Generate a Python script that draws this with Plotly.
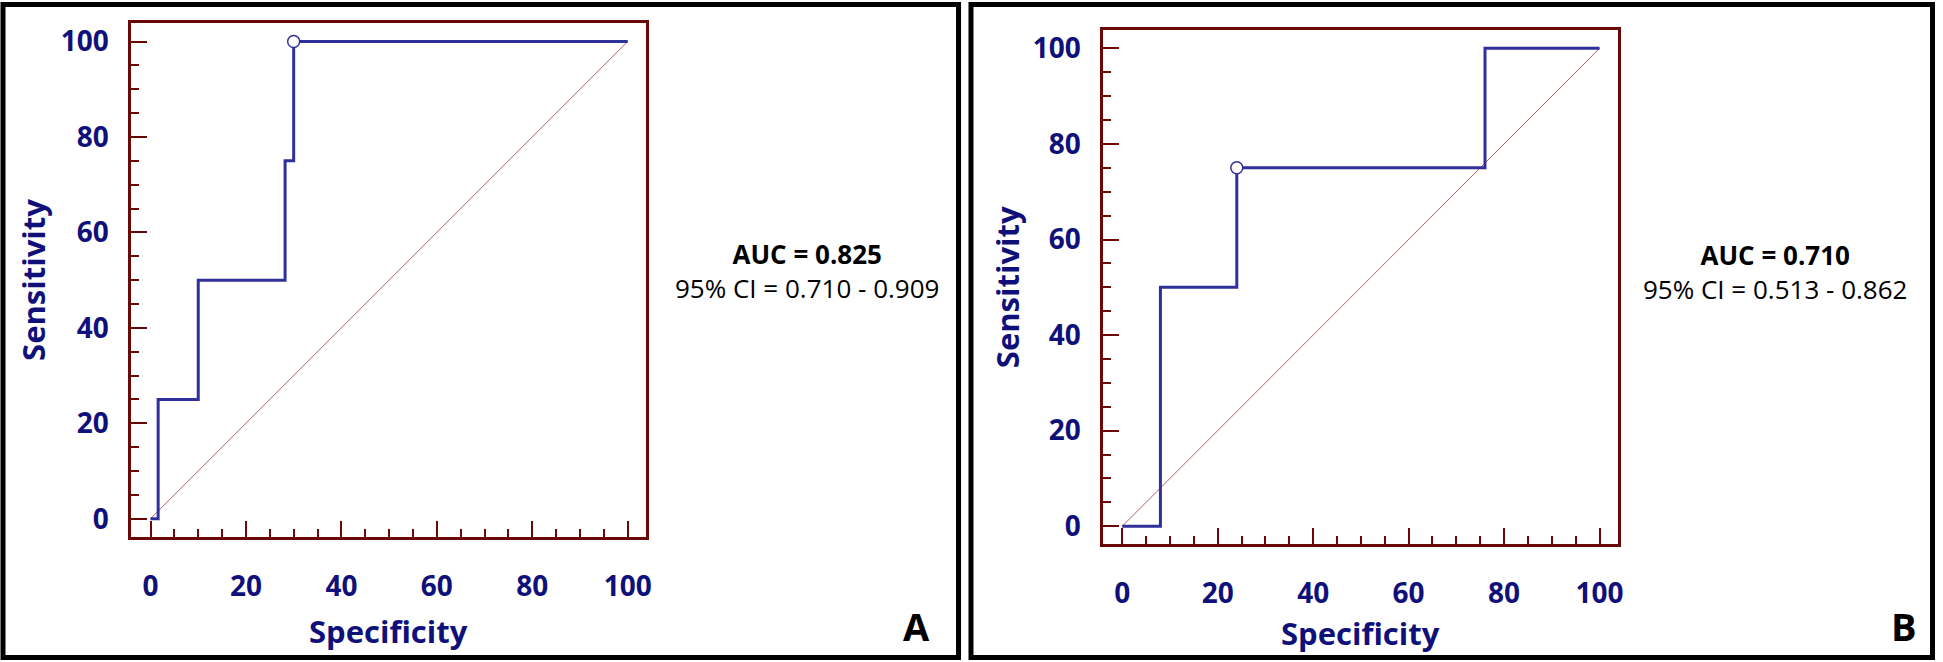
import plotly.graph_objects as go

W, H = 1943, 662

# ---- data ----
spec_a = [0, 1.6, 10, 28.2, 30, 100]
sens_a = [0, 25, 50, 75, 100, 100]
cut_a = ([30], [100])
auc_a = "AUC = 0.825"
ci_a = "95% CI = 0.710 - 0.909"

spec_b = [0, 8, 24, 76, 100]
sens_b = [0, 50, 75, 100, 100]
cut_b = ([24], [75])
auc_b = "AUC = 0.710"
ci_b = "95% CI = 0.513 - 0.862"

diag = [0, 100]
panel_labels = ["A", "B"]

NAVY = "#10107a"
CURVE = "#30309c"
FRAME = "#6a0808"
DIAG = "#b06060"
FONT = "Open Sans"

fig = go.Figure()

def px_x(p):
    return p / W

def px_y(p):
    return 1 - p / H

panels = [
    dict(spec=spec_a, sens=sens_a, cut=cut_a, auc=auc_a, ci=ci_a, lab=panel_labels[0],
         box=(131.7, 648.3, 21.0, 536.7), xr=[-4.03, 103.9], yr=[-3.85, 103.9],
         stat_xy=(810, 270), lab_xy=(919, 626),
         ytitle_x=33, xtitle_y=631),
    dict(spec=spec_b, sens=sens_b, cut=cut_b, auc=auc_b, ci=ci_b, lab=panel_labels[1],
         box=(1106.7, 1622.7, 28.3, 544.0), xr=[-3.97, 103.8], yr=[-3.8, 103.8],
         stat_xy=(1780, 271), lab_xy=(1910, 626),
         ytitle_x=1010, xtitle_y=633),
]

annotations = []
shapes = []
for i, p in enumerate(panels):
    n = "" if i == 0 else str(i + 1)
    xa, ya = "x" + n, "y" + n
    x0, x1, y0, y1 = p["box"]
    fig.add_trace(go.Scatter(x=diag, y=diag, mode="lines", xaxis=xa, yaxis=ya,
                             line=dict(color=DIAG, width=1), showlegend=False,
                             hoverinfo="skip"))
    fig.add_trace(go.Scatter(x=p["spec"], y=p["sens"], mode="lines", xaxis=xa, yaxis=ya,
                             line=dict(color=CURVE, width=3, shape="hv"),
                             showlegend=False))
    fig.add_trace(go.Scatter(x=p["cut"][0], y=p["cut"][1], mode="markers", xaxis=xa, yaxis=ya,
                             marker=dict(size=12, color="white",
                                         line=dict(color=CURVE, width=1.5)),
                             showlegend=False))
    axis_common = dict(
        showgrid=False, zeroline=False, showline=True, mirror=True,
        linecolor=FRAME, linewidth=3,
        ticks="inside", ticklen=16, tickwidth=2, tickcolor=FRAME,
        dtick=20, tick0=0,
        minor=dict(dtick=5, tick0=0, ticks="inside", ticklen=8, tickwidth=2,
                   tickcolor=FRAME, showgrid=False),
        tickfont=dict(family=FONT, size=28, color=NAVY, weight="bold"),
    )
    fig.update_layout(**{
        "xaxis" + n: dict(axis_common, domain=[px_x(x0), px_x(x1)], range=p["xr"],
                          anchor=ya, ticklabelstandoff=22),
        "yaxis" + n: dict(axis_common, domain=[px_y(y1), px_y(y0)], range=p["yr"],
                          anchor=xa, ticklabelstandoff=14),
    })
    annotations += [
        dict(text="Specificity", x=px_x((x0 + x1) / 2), y=px_y(p["xtitle_y"]),
             xref="paper", yref="paper", showarrow=False, xanchor="center", yanchor="middle",
             font=dict(family=FONT, size=31, color=NAVY, weight="bold")),
        dict(text="Sensitivity", x=px_x(p["ytitle_x"]), y=px_y((y0 + y1) / 2),
             xref="paper", yref="paper", showarrow=False, xanchor="center", yanchor="middle",
             textangle=-90,
             font=dict(family=FONT, size=31, color=NAVY, weight="bold")),
        dict(text="<b>" + p["auc"] + "</b><br>" + p["ci"],
             x=px_x(p["stat_xy"][0]), y=px_y(p["stat_xy"][1]),
             xref="paper", yref="paper", showarrow=False, xanchor="center", yanchor="middle",
             align="center",
             font=dict(family=FONT, size=26, color="black")),
        dict(text=p["lab"], x=px_x(p["lab_xy"][0]), y=px_y(p["lab_xy"][1]),
             xref="paper", yref="paper", showarrow=False, xanchor="center", yanchor="middle",
             font=dict(family=FONT, size=38, color="black", weight="bold")),
    ]

# outer panel borders
for bx0, bx1 in [(3, 961.5), (974, 1938.5)]:
    shapes.append(dict(type="rect", xref="paper", yref="paper",
                       x0=px_x(bx0), x1=px_x(bx1), y0=px_y(657.5), y1=px_y(2.5),
                       line=dict(color="black", width=5), fillcolor="rgba(0,0,0,0)"))

fig.update_layout(
    width=W, height=H, margin=dict(l=0, r=0, t=0, b=0),
    paper_bgcolor="white", plot_bgcolor="white",
    annotations=annotations, shapes=shapes, showlegend=False,
)

fig.write_html("out.html", config={"displayModeBar": False},
               post_script="document.body.style.margin='0';document.body.style.overflow='hidden';")
